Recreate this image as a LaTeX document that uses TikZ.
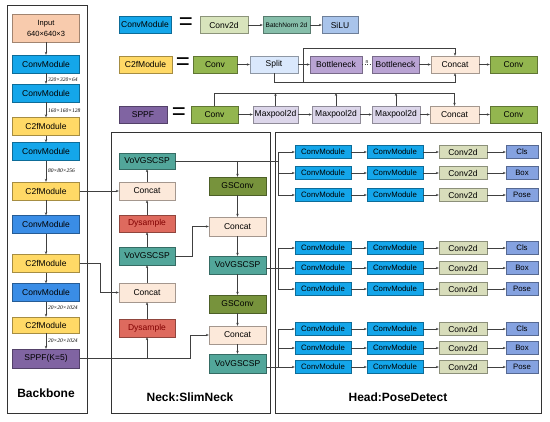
\documentclass[tikz,border=0pt]{standalone}
\usepackage{fontspec}
\setmainfont{Liberation Sans}
\newfontfamily\dimfont{Liberation Serif}
\usetikzlibrary{arrows.meta}

\definecolor{inpc}{HTML}{F8CBAD}
\definecolor{convc}{HTML}{14A6EA}
\definecolor{convd}{HTML}{3A8DE6}
\definecolor{c2fc}{HTML}{FFD966}
\definecolor{sppfc}{HTML}{8064A2}
\definecolor{c2dc}{HTML}{D8E4BC}
\definecolor{bnc}{HTML}{86BEAA}
\definecolor{siluc}{HTML}{A9C4EB}
\definecolor{greenc}{HTML}{93B64F}
\definecolor{splitc}{HTML}{DAE8FC}
\definecolor{bneckc}{HTML}{B9A3D3}
\definecolor{catc}{HTML}{FCE9DA}
\definecolor{mpc}{HTML}{DCD6EA}
\definecolor{vovc}{HTML}{52A69A}
\definecolor{dysc}{HTML}{DE6A5E}
\definecolor{gsc}{HTML}{77933C}
\definecolor{c2dk}{HTML}{D8DDBB}
\definecolor{outc}{HTML}{85A2E0}

\begin{document}
\begin{tikzpicture}
            [x=1pt, y=-1pt,
            every node/.style={rectangle, align=center, inner sep=0pt, font=\fontsize{8.5}{10}\selectfont},
            blk/.style={draw=#1!65!black, fill=#1},
            bbox/.style={minimum width=67, minimum height=18},
            lbox/.style={minimum height=17},
            nbox/.style={minimum width=56, minimum height=18},
            hbox/.style={minimum height=13, font=\fontsize{7.8}{9}\selectfont},
            eq/.style={font=\fontsize{24}{24}\selectfont},
            dim/.style={anchor=west, font=\dimfont\itshape\fontsize{5.5}{6}\selectfont},
            title/.style={font=\bfseries\fontsize{12}{14}\selectfont},
            frame/.style={draw=black!80, line width=0.8pt},
            line/.style={draw=black!75, line width=0.5pt},
            arr/.style={line, -{Stealth[length=3pt, width=2.4pt]}}]

            \useasboundingbox (0,0) rectangle (550,422);

            \draw[frame] (7,5) rectangle (87,413);
            \draw[frame] (111,132) rectangle (270,413);
            \draw[frame] (275,132) rectangle (541,413);

            \node[bbox, blk=inpc, minimum height=28, font=\fontsize{7.5}{11}\selectfont] (inp) at (46,28) {Input\\640×640×3};
            \node[bbox, blk=convc] (bb1) at (46,64) {ConvModule};
            \node[bbox, blk=convc] (bb2) at (46,93) {ConvModule};
            \node[bbox, blk=c2fc] (bb3) at (46,126.5) {C2fModule};
            \node[bbox, blk=convc] (bb4) at (46,151.5) {ConvModule};
            \node[bbox, blk=c2fc] (bb5) at (46,191) {C2fModule};
            \node[bbox, blk=convd] (bb6) at (46,224.5) {ConvModule};
            \node[bbox, blk=c2fc] (bb7) at (46,263.5) {C2fModule};
            \node[bbox, blk=convd] (bb8) at (46,292.5) {ConvModule};
            \node[bbox, blk=c2fc, minimum height=16] (bb9) at (46,325) {C2fModule};
            \node[bbox, blk=sppfc, minimum height=19] (bb10) at (46,358.5) {SPPF(K=5)};
            \foreach \a/\b in {inp/bb1, bb1/bb2, bb2/bb3, bb3/bb4, bb4/bb5, bb5/bb6, bb6/bb7, bb7/bb8, bb8/bb9, bb9/bb10}
                \draw[arr] (\a) -- (\b);

            \node[dim] (d1) at (48,79.5) {320×320×64};
            \node[dim] (d2) at (48,110.5) {160×160×128};
            \node[dim] (d3) at (48,171) {80×80×256};
            \node[dim] (d4) at (48,308) {20×20×1024};
            \node[dim] (d5) at (48,341) {20×20×1024};
            \node[title] (bbt) at (46,393) {Backbone};

            \node[lbox, blk=convc, minimum width=52] (lcm) at (145,24.5) {ConvModule};
            \node[eq] (eq1) at (186,24) {=};
            \node[lbox, blk=c2dc, minimum width=48] (lc2d) at (224,25) {Conv2d};
            \node[lbox, blk=bnc, minimum width=47, font=\fontsize{6.5}{8}\selectfont] (lbn) at (286.5,25) {BatchNorm 2d};
            \node[lbox, blk=siluc, minimum width=36] (lsilu) at (340,25) {SiLU};
            \draw[arr] (lc2d) -- (lbn);
            \draw[arr] (lbn) -- (lsilu);

            \node[lbox, blk=c2fc, minimum width=53] (lc2f) at (145.5,64.5) {C2fModule};
            \node[eq] (eq2) at (183,64) {=};
            \node[lbox, blk=greenc, minimum width=44] (lconv) at (215,64.5) {Conv};
            \node[lbox, blk=splitc, minimum width=48] (lsplit) at (274,64.5) {Split};
            \node[lbox, blk=bneckc, minimum width=52] (lbn1) at (336,64.5) {Bottleneck};
            \node[lbox, blk=bneckc, minimum width=47] (lbn2) at (395.5,64.5) {Bottleneck};
            \node[lbox, blk=catc, minimum width=48] (lcat) at (455,64.5) {Concat};
            \node[lbox, blk=greenc, minimum width=47] (lconv2) at (513.5,64.5) {Conv};
            \draw[arr] (lconv) -- (lsplit);
            \draw[arr] (lsplit) -- (lbn1);
            \draw[line, dotted] (lbn1) -- (lbn2) node[midway, above=1pt, font=\fontsize{5}{6}\selectfont] {n};
            \draw[arr] (lbn2) -- (lcat);
            \draw[arr] (lcat) -- (lconv2);
            \coordinate (s1) at (303,64.5);
            \draw[arr] (s1) -- (303,48) -| (lcat.north);
            \draw[arr] (lsplit.south) -- (274,82) -| (lcat.south);
            \draw[line] (s1) -- (303,82);

            \node[lbox, blk=sppfc, minimum width=48] (lsppf) at (143,114.5) {SPPF};
            \node[eq] (eq3) at (179,114) {=};
            \node[lbox, blk=greenc, minimum width=47] (lconv3) at (214.5,114.5) {Conv};
            \node[lbox, blk=mpc, minimum width=45] (lmp1) at (275.5,114.5) {Maxpool2d};
            \node[lbox, blk=mpc, minimum width=48] (lmp2) at (336,114.5) {Maxpool2d};
            \node[lbox, blk=mpc, minimum width=48] (lmp3) at (396,114.5) {Maxpool2d};
            \node[lbox, blk=catc, minimum width=49] (lcat2) at (454.5,114.5) {Concat};
            \node[lbox, blk=greenc, minimum width=47] (lconv4) at (513.5,114.5) {Conv};
            \foreach \a/\b in {lconv3/lmp1, lmp1/lmp2, lmp2/lmp3, lmp3/lcat2, lcat2/lconv4}
                \draw[arr] (\a) -- (\b);
            \draw[arr] (lconv3.north) -- (lconv3.north |- 0,93) -| (lcat2.north);
            \foreach \m in {lmp1, lmp2, lmp3}
                \draw[arr] (\m.north) -- (\m.north |- 0,93);

            \node[nbox, blk=vovc, minimum height=16] (nl1) at (147,161) {VoVGSCSP};
            \node[nbox, blk=catc] (nl2) at (147,191) {Concat};
            \node[nbox, blk=dysc, minimum height=17, text=red!50!black] (nl3) at (147,223.5) {Dysample};
            \node[nbox, blk=vovc] (nl4) at (147,256) {VoVGSCSP};
            \node[nbox, blk=catc, minimum height=19] (nl5) at (147,292.5) {Concat};
            \node[nbox, blk=dysc, text=red!50!black] (nl6) at (147,328) {Dysample};
            \node[nbox, blk=gsc, minimum width=57] (nr1) at (237.5,186) {GSConv};
            \node[nbox, blk=catc, minimum width=57, minimum height=19] (nr2) at (237.5,226.5) {Concat};
            \node[nbox, blk=vovc, minimum width=57] (nr3) at (237.5,265) {VoVGSCSP};
            \node[nbox, blk=gsc, minimum width=57] (nr4) at (237.5,304) {GSConv};
            \node[nbox, blk=catc, minimum width=57] (nr5) at (237.5,335) {Concat};
            \node[nbox, blk=vovc, minimum width=57, minimum height=19] (nr6) at (237.5,363.5) {VoVGSCSP};
            \node[title] (nkt) at (190,397) {Neck:SlimNeck};

            \foreach \a/\b in {nl6/nl5, nl5/nl4, nl4/nl3, nl3/nl2, nl2/nl1, nr1/nr2, nr2/nr3, nr3/nr4, nr4/nr5, nr5/nr6}
                \draw[arr] (\a) -- (\b);
            \coordinate (k1) at (100,0);
            \coordinate (k2) at (190,0);
            \coordinate (k3) at (192,0);
            \coordinate (fk) at (278,0);
            \draw[arr] (bb5.east) -- (bb5.east -| nl2.west);
            \draw[arr] (bb7.east) -- (bb7.east -| k1) |- (nl5.west);
            \draw[arr] (bb10.east) -- (bb10.east -| k2) |- (nr5.west);
            \draw[arr] (bb10.east -| nl6) -- (nl6.south);
            \draw[arr] (nl4.east) -- (nl4.east -| k3) |- (nr2.west);
            \draw[line] (nl1.east) -- (nl1.east -| fk);
            \draw[arr] (nl1.east -| nr1) -- (nr1.north);

            \foreach \g/\ya/\yb/\yc in {1/152/173/195, 2/248/268/289, 3/329/348/367} {
                \foreach \r/\y/\t in {a/\ya/Cls, b/\yb/Box, c/\yc/Pose} {
                    \node[hbox, blk=convc, minimum width=56] (h\g\r1) at (323,\y) {ConvModule};
                    \node[hbox, blk=convc, minimum width=56] (h\g\r2) at (395,\y) {ConvModule};
                    \node[hbox, blk=c2dk, minimum width=48, font=\fontsize{8.5}{9}\selectfont] (h\g\r3) at (463,\y) {Conv2d};
                    \node[hbox, blk=outc, minimum width=32] (h\g\r4) at (522,\y) {\t};
                    \draw[arr] (fk |- h\g\r1) -- (h\g\r1);
                    \draw[arr] (h\g\r1) -- (h\g\r2);
                    \draw[arr] (h\g\r2) -- (h\g\r3);
                    \draw[arr] (h\g\r3) -- (h\g\r4);
                }
                \draw[line] (fk |- h\g a1) -- (fk |- h\g c1);
            }
            \draw[line] (nr3.east |- h2b1) -- (fk |- h2b1);
            \draw[line] (nr6.east |- h3c1) -- (fk |- h3c1);
            \node[title] (hdt) at (398,397) {Head:PoseDetect};
        \end{tikzpicture}
\end{document}
